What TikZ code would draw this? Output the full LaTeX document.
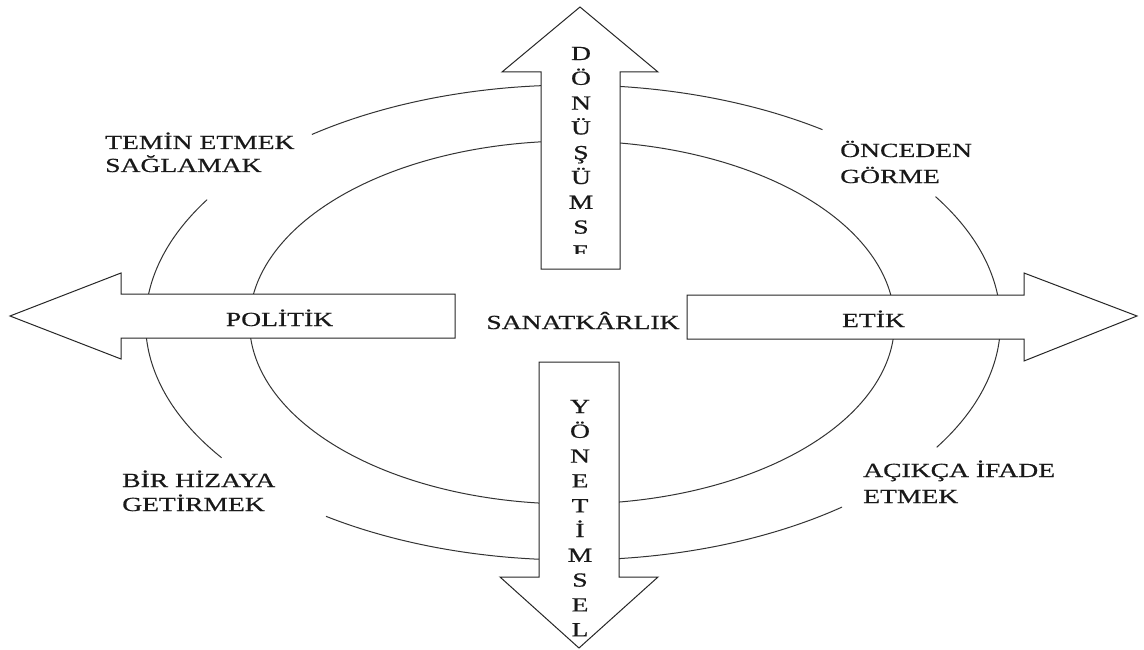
\documentclass[tikz,border=0pt]{standalone}
\usepackage{fontspec}
\setmainfont{Liberation Serif}[FakeStretch=1.38,FakeBold=0.6]
\begin{document}
\begin{tikzpicture}[x=1pt,y=-1pt,
  ring/.style={draw=black!80, line width=1pt},
  bigarrow/.style={draw=black!85, fill=white, line width=1pt, line join=miter},
  lbl/.style={inner sep=0pt, font=\fontsize{20}{24}\selectfont, text=black!90},
]
% canvas
\fill[white] (0,0) rectangle (1144,650);
\useasboundingbox (0,0) rectangle (1144,650);

% inner ring
\draw[ring] plot[domain=0:360, samples=181, smooth]
  ({572+322.5*cos(\x)},{322.5+181.5*sin(\x)});

% outer ring, broken where the corner labels sit
\draw[ring] plot[domain=51:125.3, samples=60, smooth]
  ({573+427.5*cos(\x)},{322.5+237.5*sin(\x)});
\draw[ring] plot[domain=145.3:211.15, samples=60, smooth]
  ({573+427.5*cos(\x)},{322.5+237.5*sin(\x)});
\draw[ring] plot[domain=232.35:305.7, samples=60, smooth]
  ({573+427.5*cos(\x)},{322.5+237.5*sin(\x)});
\draw[ring] plot[domain=328:391.7, samples=60, smooth]
  ({573+427.5*cos(\x)},{322.5+237.5*sin(\x)});

% four block arrows
\draw[bigarrow] (541,269) -- (541,72) -- (502,72) -- (580,7) -- (658,72)
  -- (620,72) -- (620,269) -- cycle;
\draw[bigarrow] (539,362) -- (619,362) -- (619,577) -- (658,577) -- (579,648)
  -- (500,577) -- (539,577) -- cycle;
\draw[bigarrow] (455,294) -- (121,294) -- (121,273) -- (10,316) -- (121,359)
  -- (121,338) -- (455,338) -- cycle;
\draw[bigarrow] (687,295) -- (1024,295) -- (1024,273) -- (1137,316)
  -- (1024,361) -- (1024,339) -- (687,339) -- cycle;

% stacked letters in the upward arrow (cut off by the shaft end)
\begin{scope}
  \clip (541,0) rectangle (620,253);
  \foreach \ch [count=\i] in {D,Ö,N,Ü,Ş,Ü,M,S,E}
    \node[lbl, anchor=base] (up\i) at (581,{60+24.8*(\i-1)}) {\ch};
\end{scope}

% stacked letters in the downward arrow
\foreach \ch [count=\i] in {Y,Ö,N,E,T,İ,M,S,E,L}
  \node[lbl, anchor=base] (dn\i) at (580,{413+24.8*(\i-1)}) {\ch};

% arrow and centre labels
\node[lbl, anchor=base] (pol) at (279.5,326) {POLİTİK};
\node[lbl, anchor=base] (san) at (583,329) {SANATKÂRLIK};
\node[lbl, anchor=base] (etik) at (873.5,327) {ETİK};

% corner labels
\node[lbl, anchor=base west] (temin1) at (105,149) {TEMİN ETMEK};
\node[lbl, anchor=base west] (temin2) at (105,172) {SAĞLAMAK};
\node[lbl, anchor=base west] (once1) at (840,157) {ÖNCEDEN};
\node[lbl, anchor=base west] (once2) at (840,183) {GÖRME};
\node[lbl, anchor=base west] (bir1) at (122,487) {BİR HİZAYA};
\node[lbl, anchor=base west] (bir2) at (122,511) {GETİRMEK};
\node[lbl, anchor=base west] (acik1) at (863,477) {AÇIKÇA İFADE};
\node[lbl, anchor=base west] (acik2) at (863,503) {ETMEK};
\end{tikzpicture}
\end{document}
